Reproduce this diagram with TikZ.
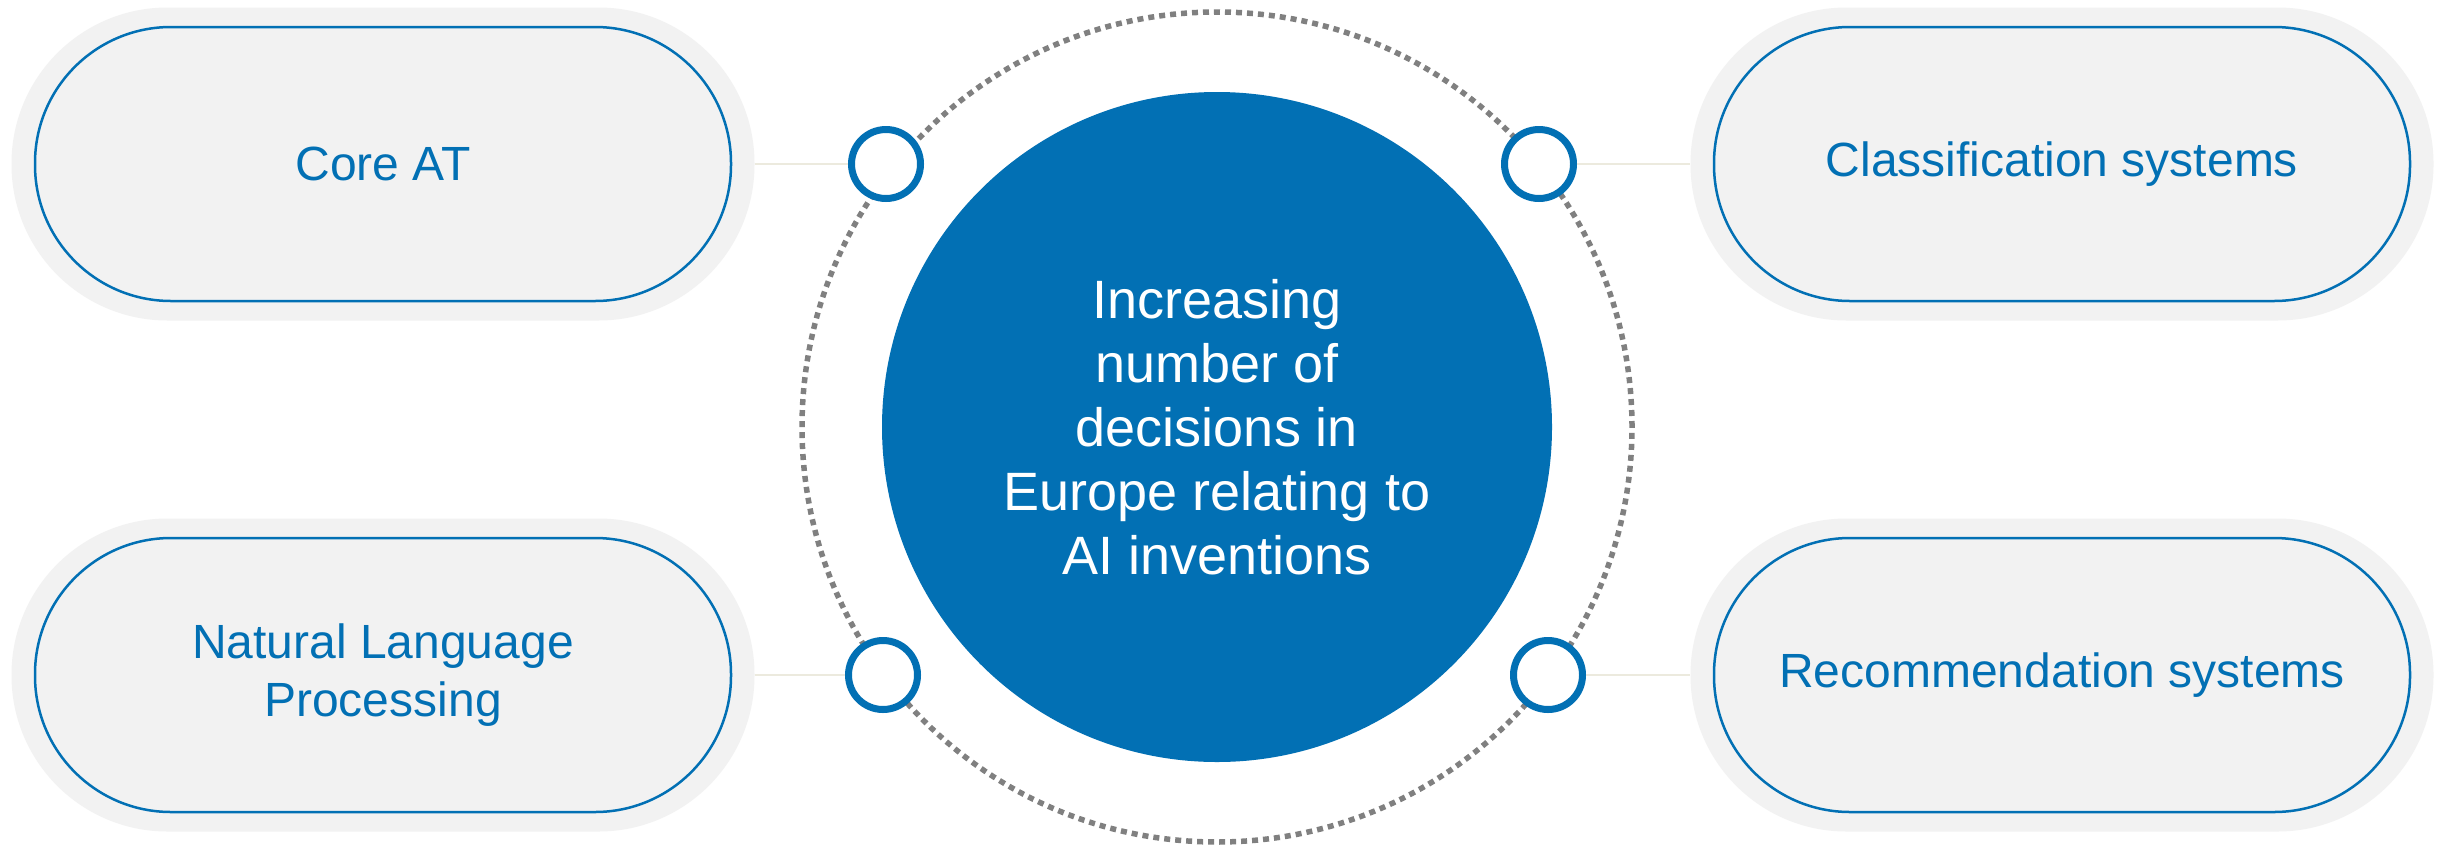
\documentclass[tikz,border=0pt]{standalone}
\usepackage{fontspec}
\setmainfont{Liberation Sans}
\definecolor{epoblue}{RGB}{2,112,180}
\definecolor{pillgrey}{RGB}{242,242,242}
\definecolor{dotgrey}{RGB}{128,128,128}
\definecolor{linebeige}{RGB}{236,234,222}
\tikzset{
  outerpill/.style={rectangle, rounded corners=156pt, minimum width=743pt, minimum height=313pt, fill=pillgrey, inner sep=0pt},
  innerpill/.style={rectangle, rounded corners=136pt, minimum width=696pt, minimum height=274pt, fill=pillgrey, draw=epoblue, line width=2.5pt, align=center, text=epoblue, font=\fontsize{48}{58}\selectfont, inner sep=0pt},
  hubnode/.style={circle, fill=epoblue, minimum size=670pt, inner sep=0pt, align=center, text=white, font=\fontsize{54}{64}\selectfont},
  ringnode/.style={circle, draw=dotgrey, line width=5.5pt, dash pattern=on 6pt off 5pt, minimum size=830pt, inner sep=0pt},
  knob/.style={circle, draw=epoblue, fill=white, line width=7pt, minimum size=69pt, inner sep=0pt},
  link/.style={draw=linebeige, line width=2.5pt}
}
\begin{document}
\begin{tikzpicture}[x=1pt,y=-1pt]
\useasboundingbox (0,0) rectangle (2443,847);
\fill[white] (0,0) rectangle (2443,847);
% outer pills
\node[outerpill] (o1) at (383,164) {};
\node[outerpill] (o2) at (2062,164) {};
\node[outerpill] (o3) at (383,675) {};
\node[outerpill] (o4) at (2062,675) {};
% inner pills
\node[innerpill] (p1) at (383,164) {Core AT};
\node[innerpill] (p2) at (2062,164) {Classification systems};
\node[innerpill] (p3) at (383,675) {Natural Language\\Processing};
\node[innerpill] (p4) at (2062,675) {Recommendation systems};
% ring and hub
\node[ringnode] (ring) at (1217,427) {};
\node[hubnode] (hub) at (1217,427) {Increasing\\number of\\decisions in\\Europe relating to\\AI inventions};
% knobs
\node[knob] (k1) at (886,164) {};
\node[knob] (k2) at (1539,164) {};
\node[knob] (k3) at (883,675) {};
\node[knob] (k4) at (1548,675) {};
% connectors
\path[link] (o1.east) -- (k1.west);
\path[link] (k2.east) -- (o2.west);
\path[link] (o3.east) -- (k3.west);
\path[link] (k4.east) -- (o4.west);
\end{tikzpicture}
\end{document}
